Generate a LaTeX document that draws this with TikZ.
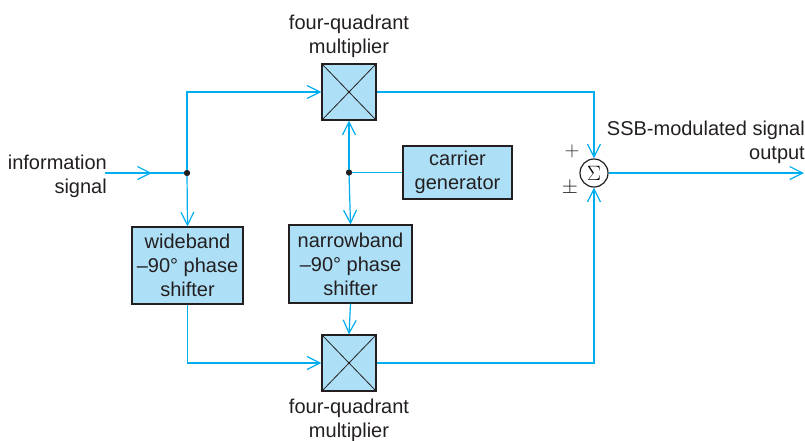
\documentclass[tikz,border=0pt]{standalone}
\usepackage{fontspec}
\setmainfont{Liberation Sans}
\usetikzlibrary{arrows.meta, positioning, decorations.markings}

\definecolor{sigcyan}{RGB}{0,174,239}
\definecolor{boxblue}{RGB}{173,224,247}
\definecolor{inkgray}{RGB}{35,31,32}

\tikzset{
    sig/.style={draw=sigcyan, line width=1.2pt},
    barb/.style={-{Straight Barb[length=13pt, width=13pt]}},
    block/.style={draw=inkgray, line width=1.2pt, fill=boxblue, text=inkgray,
        align=center, inner sep=0pt},
    mult/.style={block, minimum width=54, minimum height=56,
        path picture={
            \draw[inkgray, line width=0.8pt]
                (path picture bounding box.north west) -- (path picture bounding box.south east)
                (path picture bounding box.south west) -- (path picture bounding box.north east);
        }},
    lbl/.style={align=center, text=inkgray, inner sep=0pt},
    junc/.style={circle, fill=inkgray, inner sep=0pt, minimum size=6},
}

\begin{document}
\begin{tikzpicture}[x=1pt, y=-1pt, font=\fontsize{20}{24}\selectfont]
    \useasboundingbox (0, 0) rectangle (805, 440);

    % Multipliers
    \node[mult] (mtop) at (349, 92) {};
    \node[mult] (mbot) at (349, 363) {};
    \node[lbl, above=6pt of mtop] (mtoplbl) {four-quadrant\\multiplier};
    \node[lbl, below=7pt of mbot] (mbotlbl) {four-quadrant\\multiplier};

    % Phase shifters and carrier
    \node[block, minimum width=111, minimum height=77] (wide) at (187.5, 265.5) {wideband\\–90° phase\\shifter};
    \node[block, minimum width=123, minimum height=78] (narrow) at (350.5, 264) {narrowband\\–90° phase\\shifter};
    \node[block, minimum width=109, minimum height=53] (carrier) at (457.5, 172.5) {carrier\\generator};

    % Summer
    \node[circle, draw=inkgray, line width=1.2pt, fill=white, minimum size=28, inner sep=0pt] (sum) at (594, 173) {$\Sigma$};
    \node[lbl] (plus) at (572, 151) {$+$};
    \node[lbl] (plusminus) at (570, 188) {$\pm$};

    % Junctions
    \node[junc] (jin) at (187, 173) {};
    \node[junc] (jcar) at (349, 172.5) {};

    % Input and output
    \coordinate (instart) at (105, 173);
    \coordinate (outend) at (804, 173);
    \node[lbl, align=right, anchor=east] (inlbl) at (107, 176) {information\\signal};
    \node[lbl, align=right, anchor=south east] (outlbl) at (805, 164) {SSB-modulated signal\\output};

    % Signal paths
    \draw[sig, postaction={decorate}, decoration={markings,
        mark=at position 0.57 with {\arrow{Straight Barb[length=13pt, width=13pt]}}}]
        (instart) -- (jin.center);
    \draw[sig, barb] (jin.center) |- (mtop.west);
    \draw[sig, barb] (jin.center) -- (wide.north);
    \draw[sig, barb] (wide.south) |- (mbot.west);
    \draw[sig] (carrier.west) -- (jcar.center);
    \draw[sig, barb] (jcar.center) -- (mtop.south);
    \draw[sig, barb] (jcar.center) -- (narrow.north);
    \draw[sig, barb] (narrow.south) -- (mbot.north);
    \draw[sig, barb] (mtop.east) -| (sum.north);
    \draw[sig, barb] (mbot.east) -| (sum.south);
    \draw[sig, barb] (sum.east) -- (outend);

    % Dots on top
    \fill[inkgray] (jin) circle (3);
    \fill[inkgray] (jcar) circle (3);
\end{tikzpicture}
\end{document}
